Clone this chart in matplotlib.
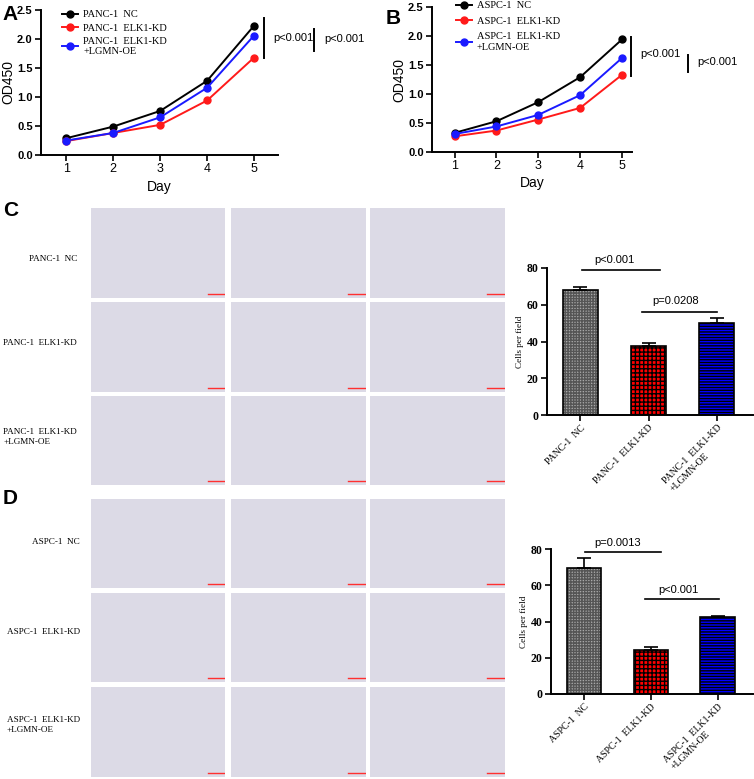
import numpy as np
import matplotlib
matplotlib.use('Agg')
import matplotlib.pyplot as plt
from matplotlib.lines import Line2D

# ---- data ----
days = [1, 2, 3, 4, 5]

panc_nc = [0.29, 0.49, 0.76, 1.28, 2.23]
panc_kd = [0.24, 0.38, 0.52, 0.94, 1.68]
panc_oe = [0.25, 0.38, 0.65, 1.16, 2.06]
panc_labels = ['PANC-1  NC', 'PANC-1  ELK1-KD', 'PANC-1  ELK1-KD\n+LGMN-OE']

aspc_nc = [0.33, 0.53, 0.86, 1.29, 1.94]
aspc_kd = [0.27, 0.37, 0.56, 0.76, 1.33]
aspc_oe = [0.31, 0.44, 0.64, 0.98, 1.62]
aspc_labels = ['ASPC-1  NC', 'ASPC-1  ELK1-KD', 'ASPC-1  ELK1-KD\n+LGMN-OE']

panc_cells = [67.9, 37.5, 50.0]
panc_err = [1.8, 1.8, 2.8]
aspc_cells = [69.5, 24.4, 42.3]
aspc_err = [5.3, 1.3, 0.7]

W, H = 754, 779
SERIF = 'Liberation Serif'
SANS = 'Liberation Sans'
line_colors = ['black', '#ff1a1a', '#1a1aff']
plt.rcParams['hatch.linewidth'] = 1.0

fig = plt.figure(figsize=(W / 100, H / 100), dpi=100)


def px_axes(l, t, r, b):
    return fig.add_axes([l / W, 1 - b / H, (r - l) / W, (b - t) / H])


def style_axes(ax):
    for s in ['top', 'right']:
        ax.spines[s].set_visible(False)
    for s in ['left', 'bottom']:
        ax.spines[s].set_linewidth(1.4)
    ax.tick_params(width=1.2, length=4, pad=2)


def growth_panel(ax, series, labels, xmax, leg_anchor, leg_space, pvals):
    for ys, c, lab in zip(series, line_colors, labels):
        ax.plot(days, ys, color=c, marker='o', markersize=5, lw=1.4, label=lab)
    ax.set_xlim(0.46, xmax)
    ax.set_ylim(0, 2.5)
    ax.set_xticks(days)
    ax.set_yticks([0, 0.5, 1.0, 1.5, 2.0, 2.5])
    ax.set_yticklabels(['0.0', '0.5', '1.0', '1.5', '2.0', '2.5'])
    style_axes(ax)
    for t in ax.get_yticklabels():
        t.set_fontfamily(SANS)
        t.set_fontweight('bold')
        t.set_fontsize(8)
    for t in ax.get_xticklabels():
        t.set_fontfamily(SANS)
        t.set_fontsize(9)
    ax.set_xlabel('Day', fontsize=10, family=SANS, labelpad=3)
    ax.set_ylabel('OD450', fontsize=10, family=SANS, labelpad=1)
    handles = [Line2D([0], [0], color=c, marker='o', markersize=5, lw=1.4) for c in line_colors]
    ax.legend(handles, labels, loc='upper left', bbox_to_anchor=leg_anchor, frameon=False,
              prop={'family': SERIF, 'size': 7.5}, handlelength=1.5, handletextpad=0.5,
              borderpad=0, borderaxespad=0, labelspacing=leg_space)
    for (x, y0, y1, tx, ty) in pvals:
        ax.plot([x, x], [y0, y1], color='black', lw=1.4, clip_on=False)
        ax.text(tx, ty, 'p<0.001', fontsize=8, family=SANS, va='center', ha='left')


# ---- panel A ----
axA = px_axes(41, 10, 278, 155)
growth_panel(axA, [panc_nc, panc_kd, panc_oe], panc_labels, 5.51, (0.09, 1.0), 0.4,
             [(5.22, 1.67, 2.36, 5.42, 2.02), (6.27, 1.8, 2.18, 6.50, 2.0)])

# ---- panel B ----
axB = px_axes(432, 7, 632, 152)
growth_panel(axB, [aspc_nc, aspc_kd, aspc_oe], aspc_labels, 5.24, (0.12, 1.04), 0.6,
             [(5.22, 1.31, 1.98, 5.43, 1.69), (6.58, 1.38, 1.67, 6.79, 1.55)])

# ---- microscopy placeholders ----
cols = [(91, 225), (231, 366), (370, 505)]
rows_c = [(208, 298), (302, 392), (396, 485)]
rows_d = [(499, 588), (593, 682), (687, 777)]
for rows in (rows_c, rows_d):
    for (t, b) in rows:
        for (l, r) in cols:
            axi = px_axes(l, t, r, b)
            axi.set_facecolor('#dcdae6')
            axi.set_xticks([])
            axi.set_yticks([])
            for s in axi.spines.values():
                s.set_visible(False)
            axi.set_xlim(0, 1)
            axi.set_ylim(0, 1)
            axi.plot([0.87, 0.99], [0.04, 0.04], color='#ff3030', lw=1.0)

# row labels (y position of each label in pixels)
label_y_c = [259, 343, 437]
label_y_d = [542, 632, 725]
for labs, ys, xr in ((panc_labels, label_y_c, 77), (aspc_labels, label_y_d, 80)):
    for lab, yc in zip(labs, ys):
        fig.text(xr / W, 1 - yc / H, lab, ha='right', va='center', multialignment='left',
                 family=SERIF, fontsize=6.6, linespacing=1.45)


# ---- bar charts ----
def bar_panel(ax, vals, errs, labels, sig):
    x = np.arange(len(vals))
    faces = ['#a8a8a8', '#ff0000', '#0000ff']
    hatches = ['++++++', '++++', '------']
    hcolors = ['#555555', 'black', 'black']
    for xi, v, e, fc, h, hc in zip(x, vals, errs, faces, hatches, hcolors):
        ax.bar(xi, v, width=0.51, color=fc, hatch=h, edgecolor=hc, lw=0)
        ax.bar(xi, v, width=0.51, fill=False, edgecolor='black', lw=1.2)
        ax.errorbar(xi, v, yerr=[[0], [e]], color='black', capsize=5, lw=1.2, capthick=1.2)
    ax.set_xlim(-0.49, 2.53)
    ax.set_ylim(0, 80)
    ax.set_yticks([0, 20, 40, 60, 80])
    ax.set_xticks(x)
    ax.set_xticklabels(labels, rotation=45, ha='right', rotation_mode='anchor',
                       family=SERIF, fontsize=7, multialignment='left')
    style_axes(ax)
    for t in ax.get_yticklabels():
        t.set_fontfamily(SERIF)
        t.set_fontweight('bold')
        t.set_fontsize(8.5)
    ax.set_ylabel('Cells per field', family=SERIF, fontsize=6.6, labelpad=2)
    for (x0, x1, y, tx, ty, txt) in sig:
        ax.plot([x0, x1], [y, y], color='black', lw=1.2, clip_on=False)
        ax.text(tx, ty, txt, ha='center', va='center', family=SANS, fontsize=8)


axC = px_axes(547, 268, 753, 415)
bar_panel(axC, panc_cells, panc_err, panc_labels,
          [(0.02, 1.16, 78.7, 0.50, 84.5, 'p<0.001'), (0.91, 2.0, 56.1, 1.40, 62.0, 'p=0.0208')])

axD = px_axes(551, 549, 753, 694)
bar_panel(axD, aspc_cells, aspc_err, aspc_labels,
          [(0.02, 1.16, 78.5, 0.51, 83.3, 'p=0.0013'), (0.92, 2.02, 52.6, 1.42, 57.4, 'p<0.001')])

# panel letters
for lab, x, y in (('A', 2, 14), ('B', 386, 18), ('C', 3, 210), ('D', 3, 498)):
    fig.text(x / W, 1 - y / H, lab, fontsize=15, fontweight='bold', family=SANS, va='center')

plt.savefig('out.png', dpi=100)
